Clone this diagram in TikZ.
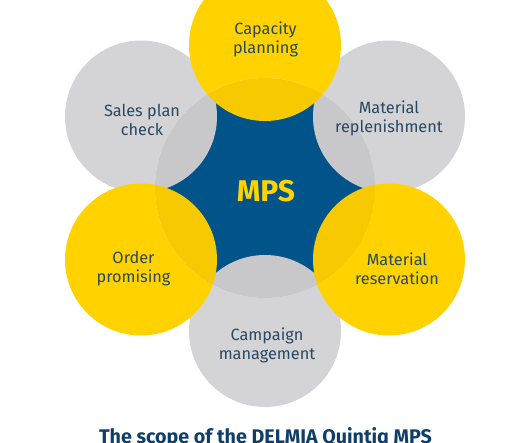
\documentclass[tikz,border=0pt]{standalone}
\usepackage{fontspec}
\setmainfont{Fira Sans}
\definecolor{cgray}{HTML}{D4D4D6}
\definecolor{cgrayd}{HTML}{C8C8CA}
\definecolor{cyel}{HTML}{FFD200}
\definecolor{cyeld}{HTML}{F7C900}
\definecolor{cblue}{HTML}{00548A}
\definecolor{ctext}{HTML}{284862}
\definecolor{ctitle}{HTML}{0E3F6A}
\definecolor{cring}{HTML}{EDEDED}
\tikzset{
  outer/.style={circle, minimum size=152pt, inner sep=0pt},
  lbl/.style={align=center, text=ctext, font=\fontsize{16.3}{19}\selectfont},
}
\begin{document}
\begin{tikzpicture}[x=1pt,y=-1pt]
\useasboundingbox (0,0) rectangle (530,442);
\coordinate (c) at (265,188);
% grey circles
\node[outer, fill=cgray] (sales) at (141,116.5) {};
\node[outer, fill=cgray] (repl) at (389,116.5) {};
\node[outer, fill=cgray] (camp) at (265,331) {};
% yellow circles
\node[outer, fill=cyel] (cap) at (265,45) {};
\node[outer, fill=cyel] (order) at (141,259.5) {};
\node[outer, fill=cyel] (res) at (389,259.5) {};
% central circle
\begin{scope}
  \clip (c) circle (110);
  \fill[cring] (c) circle (110);
  \fill[cblue] (c) circle (101);
  \fill[cgrayd] (sales.center) circle (76);
  \fill[cgrayd] (repl.center) circle (76);
  \fill[cgrayd] (camp.center) circle (76);
  \fill[cyeld] (cap.center) circle (76);
  \fill[cyeld] (order.center) circle (76);
  \fill[cyeld] (res.center) circle (76);
\end{scope}
\node[text=cyel, font=\bfseries\fontsize{30}{32}\selectfont] (mps) at (266,191) {MPS};
\node[lbl] (tcap) at (265.5,39.5) {Capacity\\planning};
\node[lbl] (tsales) at (142,119.5) {Sales plan\\check};
\node[lbl] (trepl) at (389,118.5) {Material\\replenishment};
\node[lbl] (torder) at (133.5,269) {Order\\promising};
\node[lbl] (tres) at (397,269) {Material\\reservation};
\node[lbl] (tcamp) at (267,345) {Campaign\\management};
\node[anchor=base, text=ctitle, font=\bfseries\fontsize{19.7}{21}\selectfont] (title) at (265.5,443.5) {The scope of the DELMIA Quintiq MPS};
\end{tikzpicture}
\end{document}
